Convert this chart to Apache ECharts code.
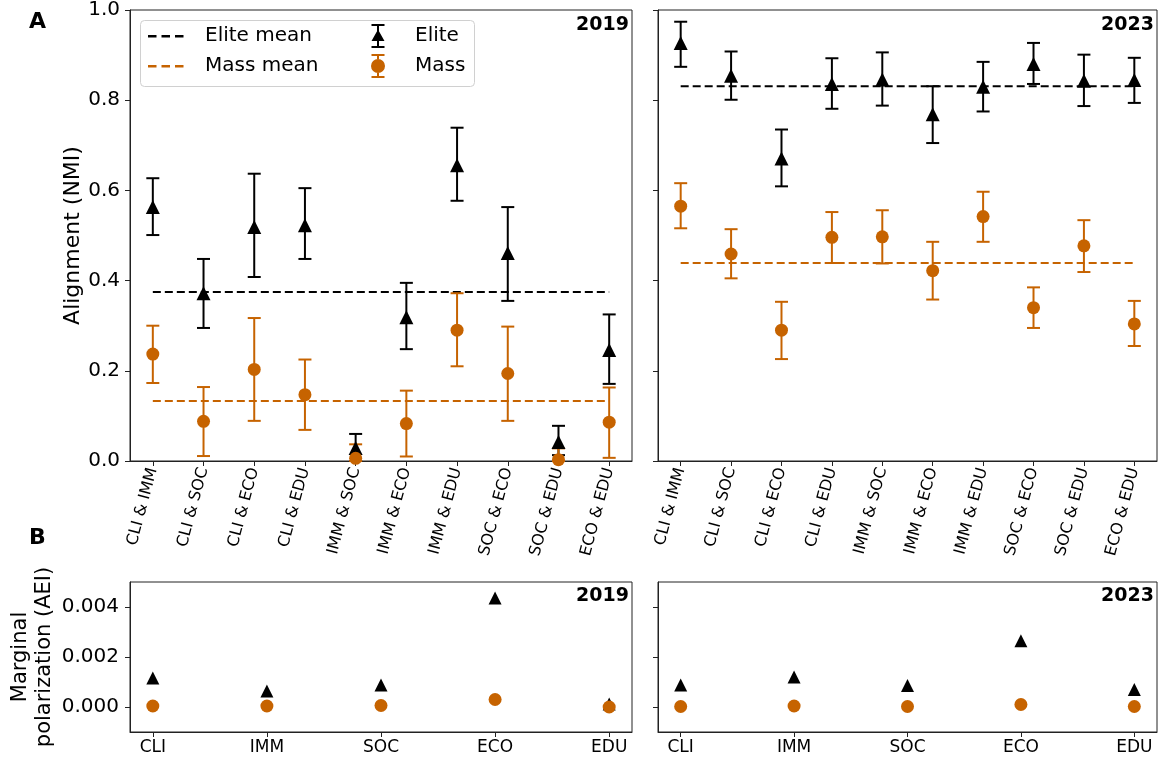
<!DOCTYPE html>
<html>
<head>
<meta charset="utf-8">
<script src="https://cdn.jsdelivr.net/npm/echarts@6/dist/echarts.min.js"></script>
<style>
html,body{margin:0;padding:0;background:#fff;}
#chart{width:1167px;height:764px;}
</style>
</head>
<body>
<div id="chart"></div>
<script>
// ---------- DATA ----------
const pairCats = ['CLI & IMM','CLI & SOC','CLI & ECO','CLI & EDU','IMM & SOC','IMM & ECO','IMM & EDU','SOC & ECO','SOC & EDU','ECO & EDU'];
const topicCats = ['CLI','IMM','SOC','ECO','EDU'];

const elite2019 = [0.563,0.372,0.519,0.523,0.029,0.319,0.656,0.461,0.042,0.246];
const elite2019Lo = [0.501,0.295,0.408,0.448,0.000,0.248,0.577,0.355,0.013,0.171];
const elite2019Hi = [0.627,0.448,0.637,0.605,0.060,0.395,0.739,0.563,0.078,0.325];
const mass2019 = [0.237,0.088,0.203,0.147,0.006,0.083,0.290,0.194,0.003,0.086];
const mass2019Lo = [0.173,0.011,0.089,0.069,0.000,0.010,0.210,0.089,0.000,0.007];
const mass2019Hi = [0.300,0.164,0.317,0.225,0.037,0.156,0.372,0.298,0.028,0.163];
const eliteMean2019 = 0.375;
const massMean2019 = 0.133;

const elite2023 = [0.927,0.854,0.671,0.836,0.846,0.769,0.830,0.880,0.843,0.845];
const elite2023Lo = [0.874,0.801,0.609,0.781,0.788,0.705,0.775,0.836,0.787,0.794];
const elite2023Hi = [0.974,0.908,0.735,0.893,0.906,0.831,0.885,0.927,0.901,0.894];
const mass2023 = [0.565,0.459,0.290,0.496,0.497,0.422,0.542,0.340,0.477,0.304];
const mass2023Lo = [0.516,0.405,0.226,0.439,0.438,0.358,0.486,0.295,0.419,0.255];
const mass2023Hi = [0.616,0.514,0.353,0.552,0.556,0.486,0.597,0.385,0.534,0.355];
const eliteMean2023 = 0.831;
const massMean2023 = 0.439;

const aeiElite2019 = [0.00116,0.00064,0.00088,0.00436,0.00012];
const aeiMass2019 = [0.00004,0.00004,0.00006,0.00030,0.00000];
const aeiElite2023 = [0.00088,0.00120,0.00086,0.00265,0.00070];
const aeiMass2023 = [0.00002,0.00004,0.00002,0.00010,0.00002];

const alignTicks = [0,0.2,0.4,0.6,0.8,1.0];
const aeiTicks = [0,0.002,0.004];

// ---------- STYLE ----------
const BLACK = '#000000';
const ORANGE = '#c66300';
const FONT = 'DejaVu Sans';
const chart = echarts.init(document.getElementById('chart'));

const pairIdx = pairCats.map((_, i) => i);
const topicIdx = topicCats.map((_, i) => i);

const grids = [
  {left:130, top:10, width:502, height:451},
  {left:658, top:10, width:499, height:451},
  {left:130, top:582, width:502, height:150},
  {left:658, top:582, width:499, height:150}
];

function xAxisA(gi){
  return {type:'value', gridIndex:gi, min:-0.45, max:9.45,
    axisLine:{show:true, onZero:false, lineStyle:{color:'#222', width:1}},
    axisTick:{show:true, customValues:pairIdx, length:5, lineStyle:{color:'#222'}},
    axisLabel:{show:true, customValues:pairIdx, rotate:75, fontSize:16, fontFamily:FONT, color:'#000', margin:7,
      formatter:v => pairCats[Math.round(v)] || ''},
    splitLine:{show:false}};
}
function xAxisB(gi){
  return {type:'value', gridIndex:gi, min:-0.2, max:4.2,
    axisLine:{show:true, onZero:false, lineStyle:{color:'#222', width:1}},
    axisTick:{show:true, customValues:topicIdx, length:5, lineStyle:{color:'#222'}},
    axisLabel:{show:true, customValues:topicIdx, fontSize:17, fontFamily:FONT, color:'#000', margin:7,
      formatter:v => topicCats[Math.round(v)] || ''},
    splitLine:{show:false}};
}
function yAxisA(gi, showLabels){
  return {type:'value', gridIndex:gi, min:0, max:1,
    name: showLabels ? 'Alignment (NMI)' : '', nameLocation:'middle', nameGap:46, nameRotate:90,
    nameTextStyle:{fontSize:22, fontFamily:FONT, color:'#000'},
    axisLine:{show:true, onZero:false, lineStyle:{color:'#222', width:1}},
    axisTick:{show:true, customValues:alignTicks, length:5, lineStyle:{color:'#222'}},
    axisLabel:{show:showLabels, customValues:alignTicks, fontSize:20, fontFamily:FONT, color:'#000', margin:10,
      formatter:v => v.toFixed(1)},
    splitLine:{show:false}};
}
function yAxisB(gi, showLabels){
  return {type:'value', gridIndex:gi, min:-0.001, max:0.005,
    name: showLabels ? 'Marginal\npolarization (AEI)' : '', nameLocation:'middle', nameGap:73, nameRotate:90,
    nameTextStyle:{fontSize:21, fontFamily:FONT, color:'#000', lineHeight:24},
    axisLine:{show:true, onZero:false, lineStyle:{color:'#222', width:1}},
    axisTick:{show:true, customValues:aeiTicks, length:5, lineStyle:{color:'#222'}},
    axisLabel:{show:showLabels, customValues:aeiTicks, fontSize:20, fontFamily:FONT, color:'#000', margin:11,
      formatter:v => v.toFixed(3)},
    splitLine:{show:false}};
}

function errSeries(name, gi, lo, hi, color){
  return {type:'custom', name:name, xAxisIndex:gi, yAxisIndex:gi, z:3,
    data: lo.map((l, i) => [i, l, hi[i]]),
    encode:{x:0, y:[1,2]},
    renderItem:(params, api) => {
      const x = api.value(0);
      const pLo = api.coord([x, api.value(1)]);
      const pHi = api.coord([x, api.value(2)]);
      const cw = 6.5;
      const st = {stroke:color, lineWidth:2, fill:null};
      return {type:'group', children:[
        {type:'line', shape:{x1:pLo[0], y1:pLo[1], x2:pHi[0], y2:pHi[1]}, style:st},
        {type:'line', shape:{x1:pHi[0]-cw, y1:pHi[1], x2:pHi[0]+cw, y2:pHi[1]}, style:st},
        {type:'line', shape:{x1:pLo[0]-cw, y1:pLo[1], x2:pLo[0]+cw, y2:pLo[1]}, style:st}
      ]};
    },
    silent:true};
}
function pointSeries(name, gi, vals, color, symbol, size){
  return {type:'scatter', name:name, xAxisIndex:gi, yAxisIndex:gi, z:4,
    symbol:symbol, symbolSize:size, itemStyle:{color:color, opacity:1},
    data: vals.map((v, i) => [i, v]), silent:true};
}
function meanSeries(name, gi, mean, color){
  return {type:'line', name:name, xAxisIndex:gi, yAxisIndex:gi, z:2,
    data:[[0, mean],[pairCats.length - 1, mean]], symbol:'none',
    lineStyle:{color:color, width:2, type:[8,4]}, itemStyle:{color:color}, silent:true};
}

const dashIcon = 'path://M0,0M40,24M0,11h8.5v2.4h-8.5zM13.5,11h8.5v2.4h-8.5zM27,11h8.5v2.4h-8.5z';
const eliteIcon = 'path://M0,0M40,24M13.5,0h13v2h-13zM19,0h2v24h-2zM13.5,22h13v2h-13zM20,5.5L26.5,17L13.5,17z';
const massIcon = 'path://M0,0M40,24M13.5,0h13v2h-13zM19,0h2v5h-2zM19,19h2v5h-2zM13.5,22h13v2h-13zM27,12A7,7 0 1 1 13,12A7,7 0 1 1 27,12z';

const legendText = {fontSize:20, fontFamily:FONT, color:'#000', padding:[0,0,0,12]};
function legendItem(name, icon, left, top){
  return {orient:'vertical', left:left, top:top, padding:0, itemWidth:40, itemHeight:24, selectedMode:false,
    textStyle:legendText, data:[{name:name, icon:icon}]};
}

const option = {
  animation:false,
  backgroundColor:'#fff',
  grid: grids.map(g => Object.assign({show:true, borderColor:'#222', borderWidth:1, backgroundColor:'transparent', containLabel:false}, g)),
  xAxis:[xAxisA(0), xAxisA(1), xAxisB(2), xAxisB(3)],
  yAxis:[yAxisA(0,true), yAxisA(1,false), yAxisB(2,true), yAxisB(3,false)],
  legend:[
    legendItem('Elite mean', dashIcon, 148, 24),
    legendItem('Mass mean', dashIcon, 148, 54),
    legendItem('Elite', eliteIcon, 358, 24),
    legendItem('Mass', massIcon, 358, 54)
  ],
  title:[
    {text:'A', left:29, top:11, padding:0, textStyle:{fontSize:22, fontWeight:'bold', fontFamily:FONT, color:'#000'}},
    {text:'B', left:29, top:527, padding:0, textStyle:{fontSize:22, fontWeight:'bold', fontFamily:FONT, color:'#000'}},
    {text:'2019', right:1167-629, top:16, padding:0, textStyle:{fontSize:19, fontWeight:'bold', fontFamily:FONT, color:'#000'}},
    {text:'2023', right:1167-1154, top:16, padding:0, textStyle:{fontSize:19, fontWeight:'bold', fontFamily:FONT, color:'#000'}},
    {text:'2019', right:1167-629, top:587, padding:0, textStyle:{fontSize:19, fontWeight:'bold', fontFamily:FONT, color:'#000'}},
    {text:'2023', right:1167-1154, top:587, padding:0, textStyle:{fontSize:19, fontWeight:'bold', fontFamily:FONT, color:'#000'}}
  ],
  graphic:[
    {type:'rect', left:140, top:20, shape:{width:334, height:66, r:4}, z:3,
      style:{fill:'rgba(255,255,255,0.85)', stroke:'#d0d0d0', lineWidth:1}}
  ],
  series:[
    meanSeries('Elite mean', 0, eliteMean2019, BLACK),
    meanSeries('Mass mean', 0, massMean2019, ORANGE),
    errSeries('Elite err 2019', 0, elite2019Lo, elite2019Hi, BLACK),
    errSeries('Mass err 2019', 0, mass2019Lo, mass2019Hi, ORANGE),
    pointSeries('Elite', 0, elite2019, BLACK, 'triangle', 14),
    pointSeries('Mass', 0, mass2019, ORANGE, 'circle', 13),

    meanSeries('Elite mean', 1, eliteMean2023, BLACK),
    meanSeries('Mass mean', 1, massMean2023, ORANGE),
    errSeries('Elite err 2023', 1, elite2023Lo, elite2023Hi, BLACK),
    errSeries('Mass err 2023', 1, mass2023Lo, mass2023Hi, ORANGE),
    pointSeries('Elite', 1, elite2023, BLACK, 'triangle', 14),
    pointSeries('Mass', 1, mass2023, ORANGE, 'circle', 13),

    pointSeries('Elite', 2, aeiElite2019, BLACK, 'triangle', 13),
    pointSeries('Mass', 2, aeiMass2019, ORANGE, 'circle', 13),
    pointSeries('Elite', 3, aeiElite2023, BLACK, 'triangle', 13),
    pointSeries('Mass', 3, aeiMass2023, ORANGE, 'circle', 13)
  ]
};
chart.setOption(option);
</script>
</body>
</html>
